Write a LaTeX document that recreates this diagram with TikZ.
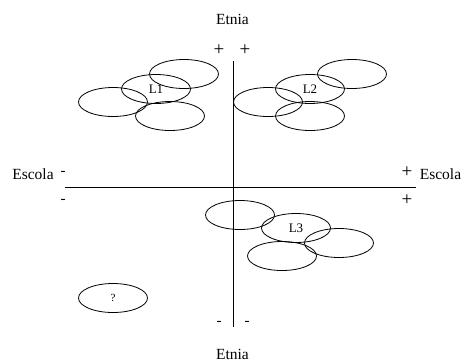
\documentclass[tikz,border=0pt]{standalone}
\usepackage{fontspec}
\setmainfont{Liberation Serif}
\usetikzlibrary{shapes.geometric}
\tikzstyle{group} = [ellipse, draw=black, line width=0.8pt, minimum width=69pt, minimum height=29pt, inner sep=0pt, font=\fontsize{13}{15}\selectfont]
\tikzstyle{axis} = [line width=0.9pt]
\tikzstyle{title} = [font=\fontsize{15.5}{18}\selectfont, inner sep=0pt]
\tikzstyle{sign} = [font=\fontsize{15}{18}\selectfont, inner sep=0pt]
\tikzstyle{plus} = [font=\fontsize{19}{22}\selectfont, inner sep=0pt]
\begin{document}
\begin{tikzpicture}[x=1pt, y=-1pt]
\useasboundingbox (0,0) rectangle (463,362);

% axes
\coordinate (top) at (233,61);
\coordinate (bottom) at (233,327);
\coordinate (left) at (65,187);
\coordinate (right) at (416,187);
\draw [axis] (top) -- (bottom);
\draw [axis] (left) -- (right);

% axis titles
\node (etniatop) [title] at (232.5,19) {Etnia};
\node (etniabot) [title] at (232.5,354) {Etnia};
\node (escolaleft) [title] at (33,174) {Escola};
\node (escolaright) [title] at (440.5,174) {Escola};

% signs
\node (ptl) [plus] at (219,50) {+};
\node (ptr) [plus] at (245,50) {+};
\node (mbl) [sign] at (219,323) {-};
\node (mbr) [sign] at (247,323) {-};
\node (mlu) [sign] at (63,173) {-};
\node (mld) [sign] at (63,201) {-};
\node (pru) [plus] at (407,172) {+};
\node (prd) [plus] at (407,200) {+};

% group L1
\node (a1) [group] at (184,74) {};
\node (l1) [group] at (156,89) {L1};
\node (a3) [group] at (113,102) {};
\node (a4) [group] at (170,116) {};

% group L2
\node (b1) [group] at (352,74) {};
\node (l2) [group] at (310,89) {L2};
\node (b3) [group] at (268,102) {};
\node (b4) [group] at (310,116) {};

% group L3
\node (c1) [group] at (240,215) {};
\node (l3) [group] at (296,228) {L3};
\node (c3) [group] at (339,243) {};
\node (c4) [group] at (282,256) {};

% unknown
\node (unk) [group, font=\fontsize{11}{13}\selectfont] at (113,298) {?};

\end{tikzpicture}
\end{document}
